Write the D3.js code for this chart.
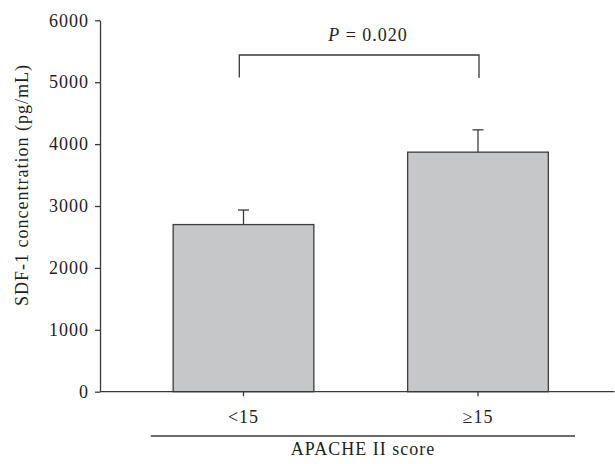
<!DOCTYPE html>
<meta charset="utf-8">
<style>
body { margin: 0; background: #fff; }
text { font-family: "Liberation Serif", "DejaVu Serif", serif; fill: #231f20; letter-spacing: 1px; }
.axis path, .axis line { stroke: #3a3a3a; stroke-width: 1.3px; }
.bar { fill: #c6c7c9; stroke: #3d3d3d; stroke-width: 1.3px; }
.err, .bracket, .group-line { stroke: #3a3a3a; stroke-width: 1.3px; fill: none; }
</style>
<body>
<svg width="615" height="464"></svg>
<script src="https://cdnjs.cloudflare.com/ajax/libs/d3/7.8.5/d3.min.js"></script>
<script>

var categories = ["<15", "\u226515"];
var means = [2700, 3870];
var errors = [235, 360];
var yTicks = [0, 1000, 2000, 3000, 4000, 5000, 6000];
var pLabel = "0.020";

var svg = d3.select("svg");

var x = d3.scaleBand()
  .domain(categories)
  .range([107.5, 614])
  .paddingInner(0.4)
  .paddingOuter(0.28);

var y = d3.scaleLinear()
  .domain([0, 6000])
  .range([391.7, 20.3]);

// bars
svg.selectAll("rect.bar")
  .data(categories)
  .enter().append("rect")
  .attr("class", "bar")
  .attr("x", function(d) { return x(d); })
  .attr("y", function(d, i) { return y(means[i]); })
  .attr("width", x.bandwidth())
  .attr("height", function(d, i) { return y(0) - y(means[i]); });

// error bars (upper only)
var err = svg.selectAll("g.errbar")
  .data(categories)
  .enter().append("g")
  .attr("class", "errbar");

err.append("line")
  .attr("class", "err")
  .attr("x1", function(d) { return x(d) + x.bandwidth() / 2; })
  .attr("x2", function(d) { return x(d) + x.bandwidth() / 2; })
  .attr("y1", function(d, i) { return y(means[i]); })
  .attr("y2", function(d, i) { return y(means[i] + errors[i]); });

err.append("line")
  .attr("class", "err")
  .attr("x1", function(d) { return x(d) + x.bandwidth() / 2 - 5.5; })
  .attr("x2", function(d) { return x(d) + x.bandwidth() / 2 + 5.5; })
  .attr("y1", function(d, i) { return y(means[i] + errors[i]); })
  .attr("y2", function(d, i) { return y(means[i] + errors[i]); });

// y axis
var yAxis = svg.append("g")
  .attr("class", "axis")
  .attr("transform", "translate(100,0)")
  .call(d3.axisLeft(y).tickValues(yTicks).tickFormat(d3.format("d"))
    .tickSize(5).tickPadding(6).tickSizeOuter(0));
yAxis.selectAll("text")
  .style("font-size", "18px")
  .style("font-family", null)
  .attr("fill", "#231f20");
yAxis.attr("font-family", null);

// x axis
var xAxis = svg.append("g")
  .attr("class", "axis")
  .attr("transform", "translate(0," + y(0) + ")");
xAxis.append("line")
  .attr("x1", 100).attr("x2", 614.5);
xAxis.selectAll("line.tick")
  .data(categories)
  .enter().append("line")
  .attr("x1", function(d) { return x(d) + x.bandwidth() / 2; })
  .attr("x2", function(d) { return x(d) + x.bandwidth() / 2; })
  .attr("y1", 0).attr("y2", 4.5);
xAxis.selectAll("text")
  .data(categories)
  .enter().append("text")
  .attr("x", function(d) { return x(d) + x.bandwidth() / 2; })
  .attr("y", 31.5)
  .attr("text-anchor", "middle")
  .style("font-size", "18px")
  .text(function(d) { return d; });

// group line + x title
svg.append("line")
  .attr("class", "group-line")
  .attr("x1", 150.7).attr("x2", 575)
  .attr("y1", 436).attr("y2", 436);

svg.append("text")
  .attr("x", 363)
  .attr("y", 455)
  .attr("text-anchor", "middle")
  .style("font-size", "18px")
  .text("APACHE II score");

// y title
svg.append("text")
  .attr("transform", "translate(28,185) rotate(-90)")
  .attr("text-anchor", "middle")
  .style("font-size", "18px")
  .text("SDF-1 concentration (pg/mL)");

// significance bracket
var bx1 = 239.3, bx2 = 479, by = 55;
svg.append("path")
  .attr("class", "bracket")
  .attr("d", "M" + bx1 + ",77.5V" + by + "H" + bx2 + "V78");

var pt = svg.append("text")
  .attr("x", 368)
  .attr("y", 41)
  .attr("text-anchor", "middle")
  .style("font-size", "18px");
pt.append("tspan").style("font-style", "italic").text("P");
pt.append("tspan").text(" = " + pLabel);

</script>
</body>
